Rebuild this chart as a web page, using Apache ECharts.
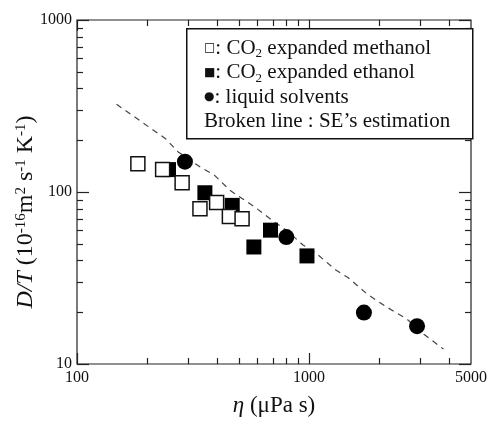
<!DOCTYPE html>
<html>
<head>
<meta charset="utf-8">
<script src="https://cdn.jsdelivr.net/npm/echarts@6/dist/echarts.min.js"></script>
<style>
html, body { margin: 0; padding: 0; background: #fff; }
#chart { width: 490px; height: 422px; }
</style>
</head>
<body>
<div id="chart"></div>
<script>
// viscosity eta (uPa s) and D/T (1e-16 m2 s-1 K-1)
const methanolEta = [183, 234, 284, 339, 400, 454, 515];
const methanolDT = [146, 135, 113, 80, 87, 72, 70];
const ethanolEta = [248, 356, 467, 683, 579, 981];
const ethanolDT = [135, 99, 83.6, 60, 47.9, 42.5];
const liquidEta = [292, 799, 1727, 2926];
const liquidDT = [150, 54.7, 19.9, 16.6];
// SE's estimation (broken line)
const seEta = [148, 241, 273, 339, 392, 458, 579, 703, 799, 943, 1071, 1301, 1478, 1796, 2183, 2653, 3131, 3806];
const seDT = [324, 204, 171, 140, 125, 102, 82.5, 67.6, 60, 49.2, 44.2, 35.3, 31.7, 25.3, 21.3, 18.2, 14.9, 12.2];

// axis ticks
const xMajor = [100, 1000];
const xMinor = [200, 300, 400, 500, 600, 700, 800, 900, 2000, 3000, 4000];
const xLabels = [100, 1000, 5000];
const yMajor = [10, 100, 1000];
const yMinor = [20, 30, 40, 50, 60, 70, 80, 90, 200, 300, 400, 500, 600, 700, 800, 900];
const yLabels = [10, 100, 1000];

const serif = 'Liberation Serif';
const ink = '#111';
const pairs = (xs, ys) => xs.map((v, i) => [v, ys[i]]);

const legendText = [
  '{sym|□}: CO{sub|2} expanded methanol',
  '{sym|■}: CO{sub|2} expanded ethanol',
  '{dot|●}: liquid solvents',
  'Broken line : SE’s estimation'
].join('\n');

const chart = echarts.init(document.getElementById('chart'));
chart.setOption({
  animation: false,
  backgroundColor: '#fff',
  grid: {
    left: 77, right: 12, top: 20, bottom: 55,
    show: true, borderColor: '#222', borderWidth: 1.2
  },
  xAxis: {
    type: 'log', min: 100, max: 5000,
    axisLine: { show: false },
    axisTick: { show: false },
    splitLine: { show: false },
    axisLabel: {
      customValues: xLabels, color: ink, fontFamily: serif, fontSize: 16, margin: 6,
      formatter: v => String(Math.round(v))
    },
    name: '{i|η} (μPa s)',
    nameLocation: 'middle',
    nameGap: 30,
    nameMoveOverlap: false,
    nameTextStyle: {
      fontFamily: serif, fontSize: 23, color: ink,
      rich: { i: { fontFamily: serif, fontSize: 23, fontStyle: 'italic', color: ink } }
    }
  },
  yAxis: {
    type: 'log', min: 10, max: 1000,
    axisLine: { show: false },
    axisTick: { show: false },
    splitLine: { show: false },
    axisLabel: {
      customValues: yLabels, color: ink, fontFamily: serif, fontSize: 16, margin: 5,
      formatter: v => String(Math.round(v))
    }
  },
  series: [
    {
      type: 'line', data: pairs(seEta, seDT), symbol: 'none',
      lineStyle: { color: '#444', width: 1.2, type: [6, 5] }, z: 1
    },
    {
      type: 'scatter', data: pairs(ethanolEta, ethanolDT), symbol: 'rect', symbolSize: 15,
      itemStyle: { color: '#000', opacity: 1 }, z: 2
    },
    {
      type: 'scatter', data: pairs(methanolEta, methanolDT), symbol: 'rect', symbolSize: 14,
      itemStyle: { color: '#fff', borderColor: ink, borderWidth: 1.5, opacity: 1 }, z: 3
    },
    {
      type: 'scatter', data: pairs(liquidEta, liquidDT), symbol: 'circle', symbolSize: 16,
      itemStyle: { color: '#000', opacity: 1 }, z: 4
    }
  ]
});

// log minor/major ticks on all four sides, placed through the axis scales
const px = v => chart.convertToPixel({ xAxisIndex: 0 }, v);
const py = v => chart.convertToPixel({ yAxisIndex: 0 }, v);
const gLeft = px(100), gRight = px(5000), gTop = py(1000), gBottom = py(10);
const ticks = [];
function tickLine(x1, y1, x2, y2) {
  ticks.push({
    type: 'line', silent: true, z: 5,
    shape: { x1: x1, y1: y1, x2: x2, y2: y2 },
    style: { stroke: '#222', lineWidth: 1.2 }
  });
}
xMajor.concat(xMinor).forEach(v => {
  const len = xMajor.includes(v) ? 11 : 6;
  const x = Math.round(px(v)) + 0.5;
  tickLine(x, gBottom, x, gBottom - len);
  tickLine(x, gTop, x, gTop + len);
});
yMajor.concat(yMinor).forEach(v => {
  const len = yMajor.includes(v) ? 12 : 6;
  const y = Math.round(py(v)) + 0.5;
  tickLine(gLeft, y, gLeft + len, y);
  tickLine(gRight, y, gRight - len, y);
});

chart.setOption({
  graphic: ticks.concat([
    {
      // y-axis title, sits a bit below the plot centre as in the original
      type: 'text', x: 26, y: 212, rotation: Math.PI / 2, z: 11,
      style: {
        text: '{i|D/T} (10{sup|-16}m{sup|2} s{sup|-1} K{sup|-1})',
        fontFamily: serif, fontSize: 24, fill: ink,
        align: 'center', verticalAlign: 'middle',
        rich: {
          i: { fontFamily: serif, fontSize: 24, fontStyle: 'italic', fill: ink },
          sup: { fontFamily: serif, fontSize: 15, verticalAlign: 'top', fill: ink }
        }
      }
    },
    {
      type: 'rect', left: 186, top: 28, z: 10,
      shape: { width: 286, height: 110 },
      style: { fill: '#fff', stroke: ink, lineWidth: 1.5 }
    },
    {
      type: 'text', left: 204, top: 36, z: 11,
      style: {
        text: legendText,
        fontFamily: serif, fontSize: 21, lineHeight: 24.5, fill: ink,
        rich: {
          sym: { fontFamily: 'DejaVu Sans', fontSize: 12, lineHeight: 24.5, fill: ink },
          dot: { fontFamily: 'DejaVu Sans', fontSize: 12, lineHeight: 24.5, fill: ink },
          sub: { fontFamily: serif, fontSize: 13, lineHeight: 13, verticalAlign: 'bottom', fill: ink }
        }
      }
    }
  ])
});
</script>
</body>
</html>
